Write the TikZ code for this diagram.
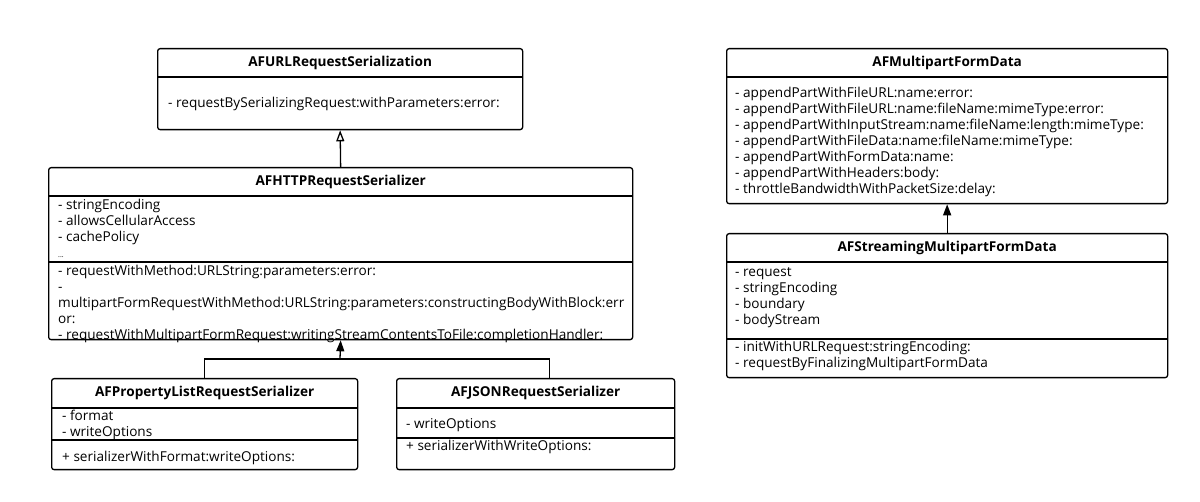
\documentclass[tikz,border=0pt]{standalone}
\usepackage{fontspec}
\setmainfont{Open Sans}
\usepackage{tikz}
\usetikzlibrary{arrows.meta,positioning}

\newcommand\membfont{\fontsize{13.6}{16}\selectfont}
\newcommand\titlefont{\fontsize{13.6}{16}\selectfont\bfseries}

\begin{document}
\begin{tikzpicture}[
    x=1pt, y=1pt,
    classbox/.style={
        draw,
        rounded corners=2.5pt,
        line width=1.3pt,
        anchor=north west,
        inner sep=0pt
    },
    classtitle/.style={
        anchor=center,
        inner sep=0pt,
        font=\titlefont
    },
    members/.style={
        anchor=north west,
        align=left,
        inner sep=0pt,
        font=\membfont
    },
    sepline/.style={line width=1.2pt},
    link/.style={line width=1.3pt},
    inherit/.style={-{Triangle[open, length=11pt, width=8pt]}, line width=1.3pt},
    realize/.style={-{Triangle[length=11pt, width=8pt]}, line width=1.3pt}
]
    \path[use as bounding box] (0,0) rectangle (1200,-502);

    % left column
    \node[classbox, minimum width=365, minimum height=81] (urlser) at (157,-48) {};
    \node[classtitle] (urlserT) at ([yshift=-15]urlser.north) {AFURLRequestSerialization};
    \draw[sepline] ([yshift=-29]urlser.north west) -- ([yshift=-29]urlser.north east);
    \node[members] (urlserM) at ([xshift=11,yshift=-48.5]urlser.north west)
        {\strut- requestBySerializingRequest:withParameters:error:};

    \node[classbox, minimum width=584, minimum height=172] (httpser) at (48,-167) {};
    \node[classtitle] (httpserT) at ([yshift=-15]httpser.north) {AFHTTPRequestSerializer};
    \draw[sepline] ([yshift=-29]httpser.north west) -- ([yshift=-29]httpser.north east);
    \node[members] (httpserA) at ([xshift=10,yshift=-31.5]httpser.north west)
        {\strut- stringEncoding\\- allowsCellularAccess\\- cachePolicy\\{\scriptsize ...}};
    \draw[sepline] ([yshift=-95]httpser.north west) -- ([yshift=-95]httpser.north east);
    \node[members] (httpserM) at ([xshift=10,yshift=-97.5]httpser.north west)
        {\strut- requestWithMethod:URLString:parameters:error:\\
         -\\
         multipartFormRequestWithMethod:URLString:parameters:constructingBodyWithBlock:err\\
         or:\\
         - requestWithMultipartFormRequest:writingStreamContentsToFile:completionHandler:};

    \node[classbox, minimum width=306, minimum height=91] (plistser) at (51,-378) {};
    \node[classtitle] (plistserT) at ([yshift=-15]plistser.north) {AFPropertyListRequestSerializer};
    \draw[sepline] ([yshift=-30]plistser.north west) -- ([yshift=-30]plistser.north east);
    \node[members] (plistserA) at ([xshift=11,yshift=-31]plistser.north west)
        {\strut- format\\- writeOptions};
    \draw[sepline] ([yshift=-62]plistser.north west) -- ([yshift=-62]plistser.north east);
    \node[members] (plistserM) at ([xshift=11,yshift=-72]plistser.north west)
        {\strut+ serializerWithFormat:writeOptions:};

    \node[classbox, minimum width=278, minimum height=91] (jsonser) at (396,-378) {};
    \node[classtitle] (jsonserT) at ([yshift=-15]jsonser.north) {AFJSONRequestSerializer};
    \draw[sepline] ([yshift=-30]jsonser.north west) -- ([yshift=-30]jsonser.north east);
    \node[members] (jsonserA) at ([xshift=10,yshift=-39]jsonser.north west)
        {\strut- writeOptions};
    \draw[sepline] ([yshift=-60]jsonser.north west) -- ([yshift=-60]jsonser.north east);
    \node[members] (jsonserM) at ([xshift=10,yshift=-61.5]jsonser.north west)
        {\strut+ serializerWithWriteOptions:};

    % right column
    \node[classbox, minimum width=441, minimum height=155] (mfdata) at (726,-48) {};
    \node[classtitle] (mfdataT) at ([yshift=-15]mfdata.north) {AFMultipartFormData};
    \draw[sepline] ([yshift=-29]mfdata.north west) -- ([yshift=-29]mfdata.north east);
    \node[members] (mfdataM) at ([xshift=9,yshift=-38.5]mfdata.north west)
        {\strut- appendPartWithFileURL:name:error:\\
         - appendPartWithFileURL:name:fileName:mimeType:error:\\
         - appendPartWithInputStream:name:fileName:length:mimeType:\\
         - appendPartWithFileData:name:fileName:mimeType:\\
         - appendPartWithFormData:name:\\
         - appendPartWithHeaders:body:\\
         - throttleBandwidthWithPacketSize:delay:};

    \node[classbox, minimum width=441, minimum height=144] (smfdata) at (726,-233) {};
    \node[classtitle] (smfdataT) at ([yshift=-15]smfdata.north) {AFStreamingMultipartFormData};
    \draw[sepline] ([yshift=-29]smfdata.north west) -- ([yshift=-29]smfdata.north east);
    \node[members] (smfdataA) at ([xshift=9,yshift=-32.5]smfdata.north west)
        {\strut- request\\- stringEncoding\\- boundary\\- bodyStream};
    \draw[sepline] ([yshift=-106]smfdata.north west) -- ([yshift=-106]smfdata.north east);
    \node[members] (smfdataM) at ([xshift=9,yshift=-107]smfdata.north west)
        {\strut- initWithURLRequest:stringEncoding:\\- requestByFinalizingMultipartFormData};

    % connectors
    \coordinate (joint) at (340,-359);
    \draw[inherit] (httpser.north) -- (urlser.south);
    \draw[link] (plistser.north) |- (joint) -| ([xshift=14]jsonser.north);
    \draw[realize] (joint) -- (httpser.south);
    \draw[realize] (smfdata.north) -- (mfdata.south);
\end{tikzpicture}
\end{document}
